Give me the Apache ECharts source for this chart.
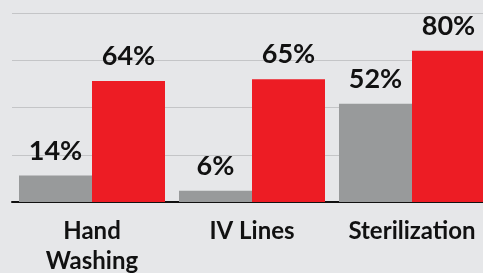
<!DOCTYPE html>
<html>
<head>
<meta charset="utf-8">
<script src="https://cdn.jsdelivr.net/npm/echarts@6/dist/echarts.min.js"></script>
<style>
  html, body { margin: 0; padding: 0; background: #e6e7e9; }
  #chart { width: 483px; height: 273px; }
</style>
</head>
<body>
<div id="chart"></div>
<script>
const categories = ['Hand\nWashing', 'IV Lines', 'Sterilization'];
const beforeValues = [14, 6, 52];
const afterValues = [64, 65, 80];

const labelFont = 'Lato, "DejaVu Sans", sans-serif';

function barSeries(name, values, color) {
    return {
        name,
        type: 'bar',
        data: values,
        barWidth: 73,
        barGap: 0,
        itemStyle: { color },
        label: {
            show: true,
            position: 'top',
            distance: 11,
            formatter: p => p.value + '%',
            color: '#111',
            fontFamily: labelFont,
            fontWeight: 'bold',
            fontSize: 27
        }
    };
}

const chart = echarts.init(document.getElementById('chart'));

chart.setOption({
    backgroundColor: '#e6e7e9',
    animation: false,
    grid: { left: 12, top: 13, width: 480, height: 189, outerBoundsMode: 'none' },
    xAxis: {
        type: 'category',
        data: categories,
        axisLine: { lineStyle: { color: '#111', width: 2 } },
        axisTick: { show: false },
        axisLabel: {
            interval: 0,
            hideOverlap: false,
            margin: 14,
            color: '#111',
            fontFamily: labelFont,
            fontWeight: 'bold',
            fontSize: 24,
            lineHeight: 30,
            overflow: 'none'
        }
    },
    yAxis: {
        type: 'value',
        min: 0,
        max: 100,
        interval: 25,
        axisLabel: { show: false },
        axisLine: { show: false },
        axisTick: { show: false },
        splitLine: { lineStyle: { color: '#c4c5c7', width: 1 } }
    },
    series: [
        barSeries('Before', beforeValues, '#989a9b'),
        barSeries('After', afterValues, '#ed1c24')
    ]
});
</script>
</body>
</html>
